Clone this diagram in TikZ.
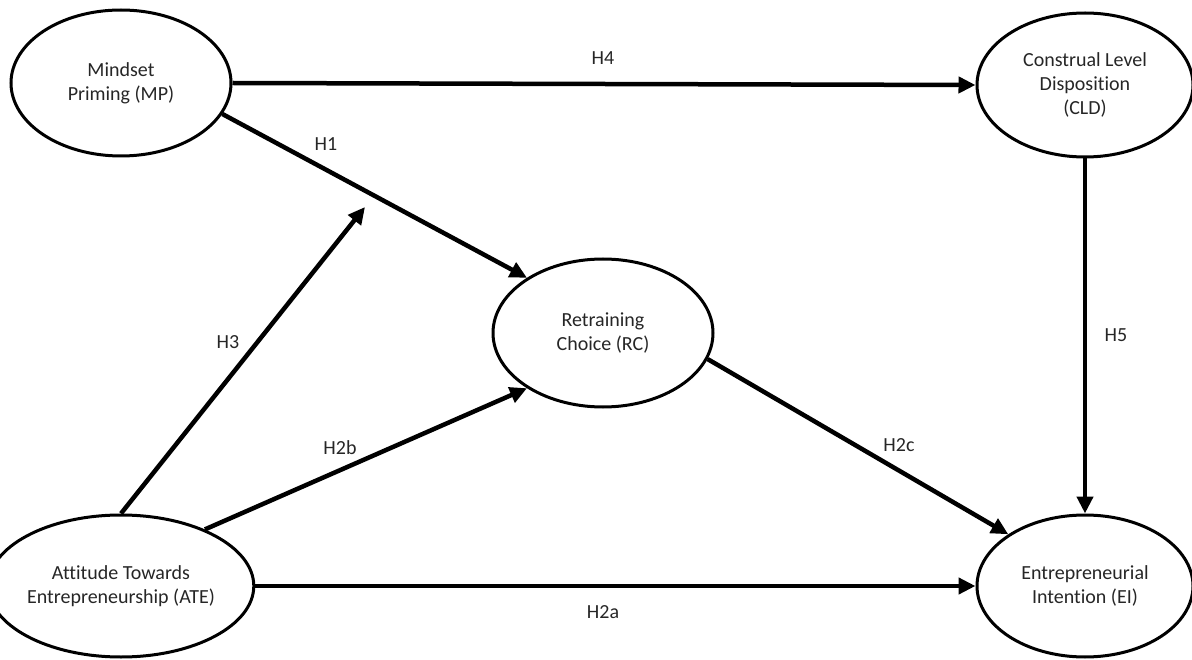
\documentclass[tikz,border=0pt]{standalone}
\usepackage{fontspec}
\setmainfont{Carlito}[Ligatures=NoCommon]
\usetikzlibrary{shapes.geometric,arrows.meta}
\begin{document}
\begin{tikzpicture}[x=1pt,y=-1pt,
  construct/.style={ellipse,draw,line width=3pt,inner sep=0pt,align=center,
    font=\fontsize{20}{24.4}\selectfont,text=black!85},
  hyp/.style={line width=4.5pt,-{Triangle[length=17pt,width=16pt]}},
  lbl/.style={font=\fontsize{20}{24}\selectfont,text=black!85}]
\useasboundingbox (0,0) rectangle (1192,660);

% constructs
\node[construct,minimum width=220pt,minimum height=146pt] (MP)  at (121,83)  {Mindset\\Priming (MP)};
\node[construct,minimum width=216pt,minimum height=144pt] (CLD) at (1085,85) {Construal Level\\Disposition\\(CLD)};
\node[construct,minimum width=220pt,minimum height=148pt] (RC)  at (603,333) {Retraining\\Choice (RC)};
\node[construct,minimum width=220pt,minimum height=142pt] (ATE) at (121,586) {Attitude Towards\\Entrepreneurship (ATE)};
\node[construct,minimum width=216pt,minimum height=142pt] (EI)  at (1085,586) {Entrepreneurial\\Intention (EI)};

% moderation target on the H1 path
\coordinate (mod) at (365,207);

% hypothesised paths
\draw[hyp] (MP.east) -- (CLD.west);
\draw[hyp] (MP.-17.6) -- (RC.144.6);
\draw[hyp] (ATE.north) -- (mod);
\draw[hyp] (ATE.34) -- (RC.216);
\draw[hyp] (RC.-14.6) -- (EI.146.8);
\draw[hyp] (ATE.east) -- (EI.west);
\draw[hyp] (CLD.south) -- (EI.north);

% path labels
\node[lbl] (lH4)  at (603,58)  {H4};
\node[lbl] (lH1)  at (326,144) {H1};
\node[lbl] (lH3)  at (228,342) {H3};
\node[lbl] (lH2b) at (340,448) {H2b};
\node[lbl] (lH2c) at (899,445) {H2c};
\node[lbl] (lH5)  at (1116,335) {H5};
\node[lbl] (lH2a) at (603,612) {H2a};
\end{tikzpicture}
\end{document}
